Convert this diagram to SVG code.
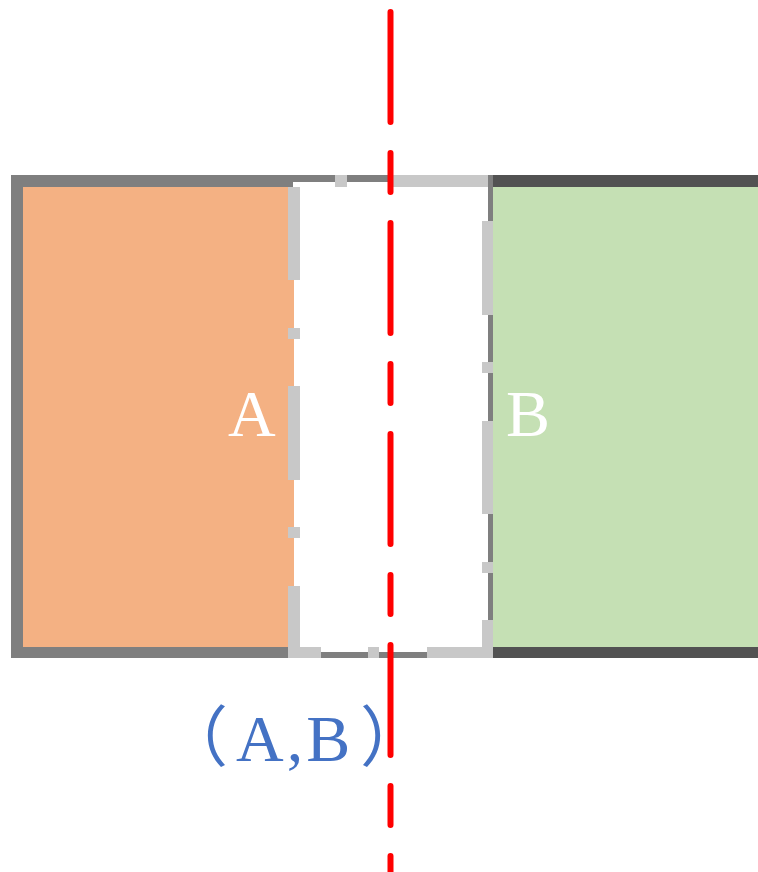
<svg xmlns="http://www.w3.org/2000/svg" width="758" height="872" viewBox="0 0 758 872">
  <style>
    .frame { fill: #7f7f7f; }
    .frame-dark { fill: #525252; }
    .wall { fill: #c8c8c8; }
    .room-a { fill: #f4b183; }
    .room-b { fill: #c5e0b4; }
    .room-label { font-family: "Liberation Serif", "Times New Roman", serif; font-size: 66px; fill: #ffffff; }
    .pair-label { font-family: "Liberation Serif", "Noto Sans CJK SC", serif; font-size: 66px; fill: #4472c4; }
    .axis { stroke: #ff0000; stroke-width: 6; stroke-linecap: round; stroke-dasharray: 110 31 39 31; fill: none; }
  </style>
  <rect x="0" y="0" width="758" height="872" fill="#ffffff"/>

  <!-- room A: orange block with grey frame -->
  <g id="room-a">
    <rect class="frame" x="11" y="175" width="282" height="483"/>
    <rect class="room-a" x="23" y="187" width="271" height="460"/>
    <text class="room-label" x="228" y="436">A</text>
  </g>

  <!-- room B: green block with dark frame -->
  <g id="room-b">
    <rect class="frame-dark" x="493" y="175" width="265" height="483"/>
    <rect class="room-b" x="493" y="187" width="265" height="460"/>
    <text class="room-label" x="506" y="436">B</text>
  </g>

  <!-- shared gap between A and B, outlined by alternating wall pieces -->
  <g id="gap">
    <!-- top edge -->
    <rect class="frame" x="293" y="175" width="42" height="7"/>
    <rect class="wall" x="335" y="175" width="12" height="12"/>
    <rect class="frame" x="347" y="175" width="42" height="7"/>
    <rect class="wall" x="389" y="175" width="99" height="12"/>
    <!-- bottom edge -->
    <rect class="wall" x="288" y="647" width="33" height="11"/>
    <rect class="frame" x="321" y="652" width="47" height="6"/>
    <rect class="wall" x="368" y="647" width="11" height="11"/>
    <rect class="frame" x="379" y="652" width="48" height="6"/>
    <rect class="wall" x="427" y="647" width="66" height="11"/>
    <!-- left edge (side of A) -->
    <rect class="wall" x="288" y="187" width="12" height="93"/>
    <rect class="wall" x="288" y="328" width="12" height="11"/>
    <rect class="wall" x="288" y="386" width="12" height="94"/>
    <rect class="wall" x="288" y="527" width="12" height="11"/>
    <rect class="wall" x="288" y="586" width="12" height="61"/>
    <!-- right edge (side of B) -->
    <rect class="frame" x="488" y="175" width="5" height="472"/>
    <rect class="wall" x="482" y="221" width="11" height="94"/>
    <rect class="wall" x="482" y="362" width="11" height="11"/>
    <rect class="wall" x="482" y="421" width="11" height="93"/>
    <rect class="wall" x="482" y="562" width="11" height="11"/>
    <rect class="wall" x="482" y="620" width="11" height="27"/>
  </g>

  <!-- pair label under the gap -->
  <g id="pair-label">
    <text class="pair-label" y="761"><tspan x="162">（</tspan><tspan x="236" letter-spacing="3">A,B</tspan><tspan x="360">）</tspan></text>
  </g>

  <!-- dash-dot centre line through the gap -->
  <g id="axis">
    <line class="axis" x1="390.5" y1="12" x2="390.5" y2="872"/>
  </g>
</svg>
